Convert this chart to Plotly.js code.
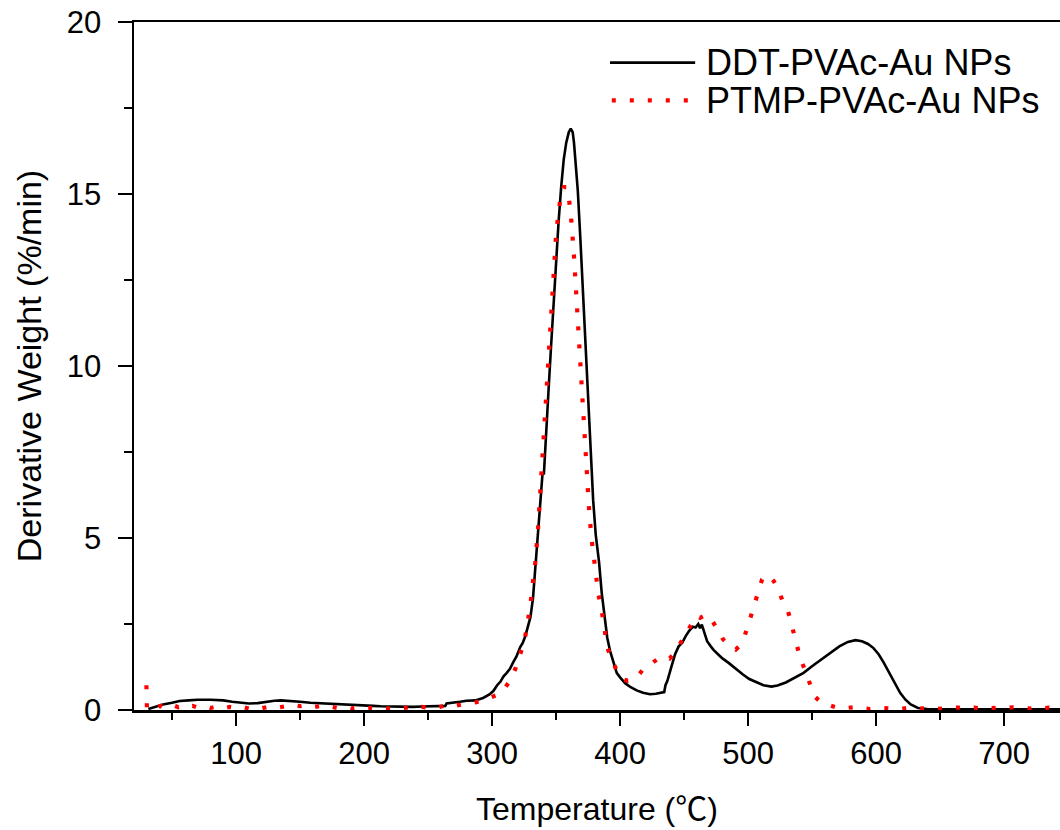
<!DOCTYPE html>
<html>
<head>
<meta charset="utf-8">
<script src="https://cdn.plot.ly/plotly-3.0.1.min.js"></script>
<style>html,body{margin:0;padding:0;background:#fff;}#chart{width:1060px;height:830px;}</style>
</head>
<body>
<div id="chart"></div>
<script>
// ---- data ----
const seriesNames = ['DDT-PVAc-Au NPs', 'PTMP-PVAc-Au NPs'];

const ddtTemp = [31.5, 37, 43, 50, 56, 63, 70, 80, 90, 97,
  103, 110, 117, 124, 130, 135, 140, 145, 150, 158,
  165, 173, 180, 187, 194, 200, 207, 213, 220, 226,
  232, 238, 245, 252, 258, 263.5, 264.5, 270, 275, 280,
  287, 293, 298, 301, 304, 306.5, 309, 311.5, 314, 316.7,
  319, 322, 324, 326, 328.4, 330, 332, 334, 336, 338,
  339.5, 340.5, 342, 344, 346, 348, 350, 352, 354, 356,
  358, 360, 361.5, 363, 364, 365, 367, 369, 371, 373,
  375, 377, 379, 381, 383.6, 385.7, 388, 390, 392.2, 395.5,
  397.4, 400, 404, 408, 413, 418, 423.4, 428, 432, 434.5,
  435.5, 437, 440.2, 443, 445.8, 448.5, 451.3, 454, 456.9, 459,
  461.1, 462.5, 463.9, 465, 466.7, 468, 470.9, 473, 476.5, 480,
  484.8, 490, 496, 501, 507.1, 512, 518.3, 523, 529.5, 536,
  543.4, 550, 557.4, 564, 571.3, 578, 583.9, 589, 593.7, 598,
  602, 606, 610.4, 614, 618.8, 623, 627.1, 632.7, 640, 650,
  665, 680, 700, 720, 745];
const ddtDeriv = [0.03, 0.10, 0.16, 0.21, 0.26, 0.28, 0.30, 0.30, 0.28, 0.24,
  0.21, 0.19, 0.20, 0.24, 0.27, 0.28, 0.27, 0.26, 0.24, 0.21,
  0.20, 0.18, 0.17, 0.16, 0.14, 0.13, 0.12, 0.11, 0.10, 0.09,
  0.09, 0.09, 0.10, 0.11, 0.12, 0.12, 0.19, 0.21, 0.24, 0.27,
  0.28, 0.35, 0.45, 0.55, 0.72, 0.82, 0.98, 1.08, 1.20, 1.40,
  1.55, 1.83, 1.95, 2.15, 2.45, 2.70, 3.25, 4.20, 5.10, 6.20,
  6.90, 6.85, 8.00, 9.20, 10.5, 11.8, 13.0, 14.2, 15.2, 16.0,
  16.5, 16.8, 16.9, 16.8, 16.5, 16.1, 15.1, 13.7, 12.1, 10.5,
  8.9, 7.4, 6.1, 5.1, 4.3, 3.4, 2.6, 2.1, 1.72, 1.27,
  1.08, 0.95, 0.78, 0.67, 0.57, 0.50, 0.46, 0.47, 0.49, 0.52,
  0.72, 0.85, 1.27, 1.62, 1.85, 1.95, 2.15, 2.30, 2.42, 2.40,
  2.50, 2.38, 2.48, 2.35, 2.20, 2.00, 1.85, 1.75, 1.62, 1.50,
  1.37, 1.20, 1.03, 0.90, 0.79, 0.72, 0.68, 0.71, 0.80, 0.93,
  1.08, 1.27, 1.47, 1.66, 1.85, 1.98, 2.03, 2.00, 1.92, 1.80,
  1.62, 1.38, 1.08, 0.80, 0.50, 0.30, 0.16, 0.06, 0.03, 0.02,
  0.02, 0.02, 0.02, 0.02, 0.02];

const ptmpTemp = [30, 30.4, 33, 36, 38, 41, 43, 46, 48, 52,
  55, 59, 62, 66, 70, 75, 80, 85, 90, 95,
  100, 105, 110, 115, 120, 125, 130, 135, 140, 145,
  150, 155, 160, 165, 170, 175, 180, 185, 190, 195,
  200, 205, 210, 215, 220, 225, 230, 235, 240, 245,
  250, 254, 258, 262, 265, 269, 272, 276, 280, 287,
  293, 298, 304, 309, 314, 318, 321.5,
  324, 326, 328, 330, 331.5, 333.6, 336, 338, 340, 342,
  344, 346, 348, 350, 352, 354, 356, 358, 360, 362,
  364, 366, 368, 370, 372, 374, 376, 378, 379.9, 381,
  383.1, 385.7, 388, 390.1, 392.7, 394.8, 398.7, 402, 406, 410,
  413, 418, 423.4, 429, 434.6, 438.8, 443, 447.2, 451.3, 455.5,
  459.7, 462.5, 467.5, 472.3, 476.5, 480.6, 484.8, 488, 490.4, 493,
  496, 500.2, 504.4, 508, 511, 514, 517, 520, 523, 526.6,
  530.9, 533.7, 537.3, 540.6, 544.8, 548.4, 551.8, 557.4, 565.7, 570,
  575, 580, 585, 590, 595, 602, 610, 617, 625, 632,
  640, 647, 655, 662, 670, 677, 685, 692, 700, 707,
  715, 720, 725, 730, 735, 740, 745];
const ptmpDeriv = [0.72, 0.04, 0.05, 0.10, 0.06, 0.12, 0.08, 0.13, 0.09, 0.12,
  0.08, 0.13, 0.09, 0.12, 0.07, 0.11, 0.06, 0.10, 0.05, 0.09,
  0.06, 0.09, 0.04, 0.08, 0.05, 0.09, 0.05, 0.10, 0.12, 0.16,
  0.11, 0.14, 0.08, 0.11, 0.06, 0.09, 0.05, 0.08, 0.04, 0.07,
  0.04, 0.06, 0.03, 0.06, 0.04, 0.07, 0.05, 0.08, 0.05, 0.09,
  0.07, 0.10, 0.08, 0.12, 0.10, 0.14, 0.13, 0.16, 0.18, 0.22,
  0.28, 0.36, 0.44, 0.58, 0.86, 1.18, 1.55,
  1.85, 2.15, 2.55, 3.05, 3.60, 4.20, 5.30, 6.50, 7.80, 9.00,
  10.3, 11.6, 12.8, 13.8, 14.5, 15.0, 15.2, 15.2, 14.9, 14.2,
  13.2, 12.0, 10.7, 9.3, 8.0, 6.8, 5.7, 4.9, 4.37, 3.95,
  3.36, 2.88, 2.30, 1.81, 1.55, 1.37, 1.03, 0.90, 0.85, 0.88,
  0.95, 1.18, 1.32, 1.47, 1.56, 1.50, 1.68, 1.95, 2.24, 2.53,
  2.74, 2.68, 2.77, 2.58, 2.29, 2.05, 1.90, 1.80, 1.76, 1.85,
  2.00, 2.48, 2.97, 3.45, 3.80, 3.92, 3.88, 3.75, 3.55, 3.21,
  2.92, 2.53, 2.00, 1.52, 1.13, 0.71, 0.40, 0.21, 0.09, 0.06,
  0.05, 0.08, 0.09, 0.05, 0.03, 0.07, 0.05, 0.02, 0.06, 0.03,
  0.06, 0.03, 0.05, 0.08, 0.04, 0.07, 0.03, 0.06, 0.05, 0.08,
  0.06, 0.04, 0.08, 0.05, 0.07, 0.04, 0.06];

const xTitle = 'Temperature (<span style="font-family:\'Noto Sans CJK SC\'">℃</span>)';
const yTitle = 'Derivative Weight (%/min)';

// ---- styles ----
const FONT = 'Liberation Sans, Arial, Helvetica, sans-serif';
const redDash = '4px,14px';

const traces = [
  {x: ddtTemp, y: ddtDeriv, name: seriesNames[0], type: 'scatter', mode: 'lines',
   line: {color: '#000000', width: 2.6}, showlegend: false, hoverinfo: 'skip'},
  {x: ptmpTemp, y: ptmpDeriv, name: seriesNames[1], type: 'scatter', mode: 'lines',
   line: {color: '#ff0000', width: 4.2, dash: redDash}, showlegend: false, hoverinfo: 'skip'}
];

// manual legend (long line samples like the original)
const legRows = [0.941, 0.886];
const shapes = [
  {type: 'line', xref: 'paper', yref: 'paper', x0: 0.514, x1: 0.606, y0: legRows[0], y1: legRows[0],
   line: {color: '#000000', width: 2.6}},
  {type: 'line', xref: 'paper', yref: 'paper', x0: 0.516, x1: 0.604, y0: legRows[1], y1: legRows[1],
   line: {color: '#ff0000', width: 4.2, dash: redDash}}
];
const annotations = seriesNames.map((n, i) => ({
  xref: 'paper', yref: 'paper', x: 0.6155, y: legRows[i], xanchor: 'left', yanchor: 'middle',
  text: n, showarrow: false, font: {family: FONT, size: 36, color: '#000'}
}));

const layout = {
  width: 1060, height: 830,
  margin: {l: 134, r: 0, t: 22, b: 120, pad: 0},
  paper_bgcolor: '#ffffff', plot_bgcolor: '#ffffff',
  font: {family: FONT, color: '#000000', size: 31},
  showlegend: false,
  xaxis: {
    range: [20.3, 743.7], tick0: 0, dtick: 100,
    ticks: 'outside', ticklen: 13, tickwidth: 2.5, tickcolor: '#000',
    showline: true, linewidth: 2.5, linecolor: '#000', mirror: true,
    showgrid: false, zeroline: false,
    tickfont: {family: FONT, size: 31}, ticklabelstandoff: 1,
    minor: {dtick: 50, tick0: 0, ticks: 'outside', ticklen: 7, tickwidth: 2.5, tickcolor: '#000', showgrid: false},
    title: {text: xTitle, font: {family: FONT, size: 32}, standoff: 28}
  },
  yaxis: {
    range: [0, 20], tick0: 0, dtick: 5,
    ticks: 'outside', ticklen: 14, tickwidth: 2.5, tickcolor: '#000',
    showline: true, linewidth: 2.5, linecolor: '#000', mirror: false,
    showgrid: false, zeroline: false,
    tickfont: {family: FONT, size: 31}, ticklabelstandoff: 10,
    minor: {dtick: 2.5, tick0: 0, ticks: 'outside', ticklen: 8, tickwidth: 2.5, tickcolor: '#000', showgrid: false},
    title: {text: yTitle, font: {family: FONT, size: 34}, standoff: 15}
  },
  shapes: shapes,
  annotations: annotations
};

Plotly.newPlot('chart', traces, layout, {staticPlot: true, displayModeBar: false});
</script>
</body>
</html>
